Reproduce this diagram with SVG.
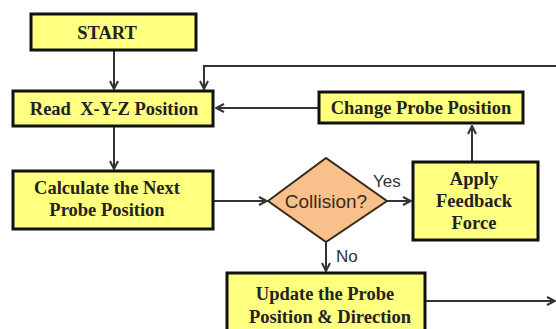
<svg xmlns="http://www.w3.org/2000/svg" width="556" height="329" viewBox="0 0 556 329">
<defs>
<marker id="arr" viewBox="0 0 10 10" refX="9" refY="5" markerWidth="10" markerHeight="10" markerUnits="userSpaceOnUse" orient="auto">
<path d="M1,1 L9,5 L1,9" fill="none" stroke="#333" stroke-width="2"/>
</marker>
<style>
.box{fill:#ffff80;stroke:#111;stroke-width:3}
.dia{fill:#f8c08a;stroke:#3a2a1a;stroke-width:2}
.t{font-family:'Liberation Serif','Times New Roman',serif;font-weight:bold;font-size:18.5px;fill:#222;text-anchor:middle}
.s{font-family:'Liberation Sans',Arial,sans-serif;font-size:19px;fill:#3a2a1a;text-anchor:middle}
.l{font-family:'Liberation Sans',Arial,sans-serif;font-size:17px;fill:#333}
.c{fill:none;stroke:#333;stroke-width:2}
</style>
</defs>
<rect width="556" height="329" fill="#fff"/>
<g id="connectors">
<line class="c" x1="114" y1="51" x2="114" y2="89" marker-end="url(#arr)"/>
<polyline class="c" points="556,66 204,66 204,89" marker-end="url(#arr)"/>
<line class="c" x1="319" y1="108" x2="216" y2="108" marker-end="url(#arr)"/>
<line class="c" x1="114" y1="127" x2="114" y2="169" marker-end="url(#arr)"/>
<line class="c" x1="214" y1="201" x2="267" y2="201" marker-end="url(#arr)"/>
<line class="c" x1="387" y1="201" x2="411" y2="201" marker-end="url(#arr)"/>
<line class="c" x1="472" y1="161" x2="472" y2="126" marker-end="url(#arr)"/>
<line class="c" x1="326" y1="243" x2="326" y2="271" marker-end="url(#arr)"/>
<line class="c" x1="426" y1="301" x2="555" y2="301" marker-end="url(#arr)"/>
<text class="l" x="373" y="187">Yes</text>
<text class="l" x="336" y="262">No</text>
</g>
<g id="start">
<rect class="box" x="31" y="14" width="165" height="36"/>
<text class="t" x="107" y="39">START</text>
</g>
<g id="read">
<rect class="box" x="13" y="91" width="200" height="35"/>
<text class="t" x="114" y="115" xml:space="preserve">Read  X-Y-Z Position</text>
</g>
<g id="calc">
<rect class="box" x="13" y="171" width="200" height="58"/>
<text class="t" x="107" y="194">Calculate the Next</text>
<text class="t" x="107" y="216">Probe Position</text>
</g>
<g id="collision">
<polygon class="dia" points="268,201 326,158 387,201 326,242"/>
<text class="s" x="326" y="208">Collision?</text>
</g>
<g id="apply">
<rect class="box" x="413" y="162" width="125" height="78"/>
<text class="t" x="474" y="185">Apply</text>
<text class="t" x="474" y="207">Feedback</text>
<text class="t" x="474" y="229">Force</text>
</g>
<g id="change">
<rect class="box" x="319" y="92" width="204" height="31"/>
<text class="t" x="421" y="114">Change Probe Position</text>
</g>
<g id="update">
<rect class="box" x="227" y="273" width="198" height="64"/>
<text class="t" x="325" y="300">Update the Probe</text>
<text class="t" x="330" y="323">Position &amp; Direction</text>
</g>
</svg>
